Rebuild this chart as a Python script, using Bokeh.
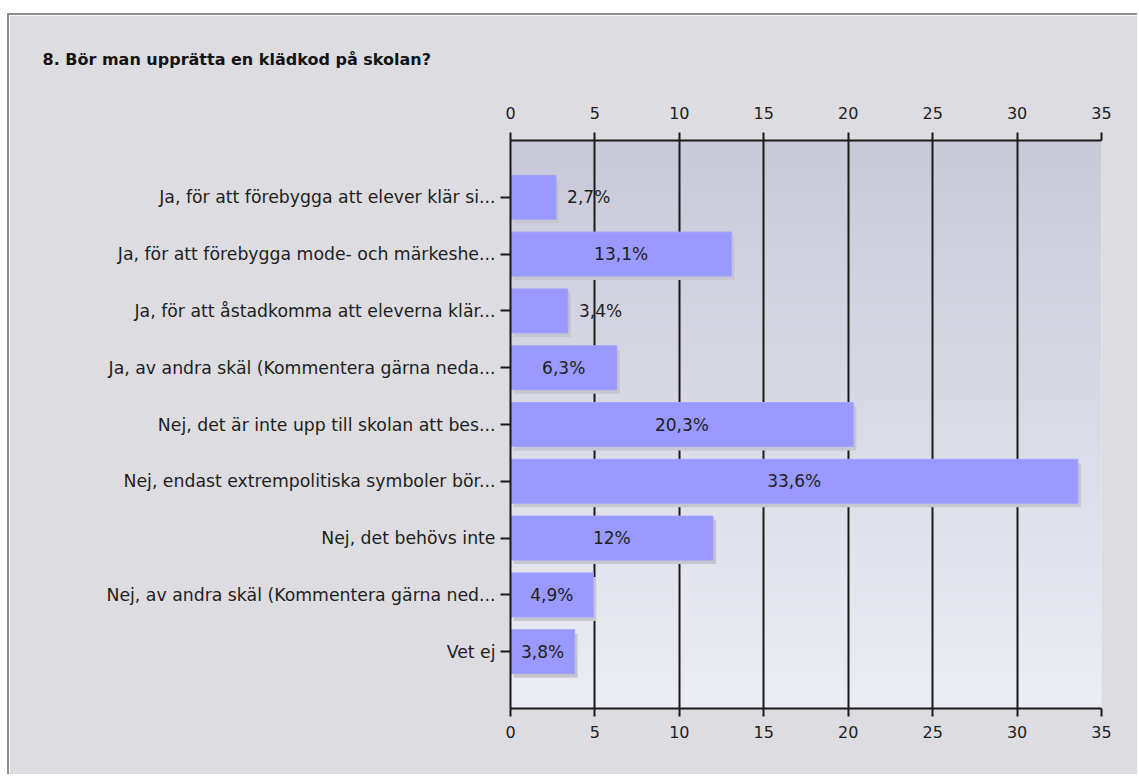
import numpy as np
from bokeh.plotting import figure
from bokeh.models import (Range1d, FixedTicker, LinearAxis, ColumnDataSource)
from bokeh.core.properties import value
from bokeh.embed import file_html
from bokeh.resources import INLINE

# ---- data ----
title_text = "8. Bör man upprätta en klädkod på skolan?"
categories = [
    "Ja, för att förebygga att elever klär si...",
    "Ja, för att förebygga mode- och märkeshe...",
    "Ja, för att åstadkomma att eleverna klär...",
    "Ja, av andra skäl (Kommentera gärna neda...",
    "Nej, det är inte upp till skolan att bes...",
    "Nej, endast extrempolitiska symboler bör...",
    "Nej, det behövs inte",
    "Nej, av andra skäl (Kommentera gärna ned...",
    "Vet ej",
]
percentages = [2.7, 13.1, 3.4, 6.3, 20.3, 33.6, 12.0, 4.9, 3.8]
x_ticks = [0, 5, 10, 15, 20, 25, 30, 35]

FONT = "DejaVu Sans"
TXT = "#1e1e1e"
n = len(categories)
ypos = [n - i for i in range(n)]  # top category highest
labels = [("%g" % v).replace(".", ",") + "%" for v in percentages]

# px per unit (frame 591 px wide for 35 units, 568 px tall for 10 units)
px_x = 591 / 35.0
px_y = 568 / 10.0

W, H = 1130, 761
FL, FR, FT, FB = 501, 1092, 125, 693

p = figure(width=W, height=H, output_backend="svg", toolbar_location=None,
           x_range=Range1d(0, 35), y_range=Range1d(0, n + 1),
           min_border_left=FL, min_border_right=W - FR, min_border_top=FT,
           min_border_bottom=H - FB, x_axis_location="below")
p.margin = (13, 0, 0, 7)
p.styles = {"border-top": "2px solid #8e8e8e", "border-left": "2px solid #8e8e8e"}
p.border_fill_color = "#dddce1"
p.background_fill_color = "#dcdce6"
p.outline_line_color = None

# title
p.title.text = title_text
p.title.align = "left"
p.title.vertical_align = "top"
p.title.offset = 33 - FL
p.title.standoff = 65
p.title.text_font = FONT
p.title.text_font_size = "16px"
p.title.text_font_style = "bold"
p.title.text_color = "#141414"

# gradient background of plot area
rows = 256
t = np.linspace(0, 1, rows)  # 0 bottom -> 1 top
top_c = np.array([201, 201, 217])
bot_c = np.array([237, 237, 245])
img = np.zeros((rows, 1), dtype=np.uint32)
view = img.view(dtype=np.uint8).reshape((rows, 1, 4))
for k in range(rows):
    c = bot_c + (top_c - bot_c) * t[k]
    view[k, 0, 0] = int(c[0]); view[k, 0, 1] = int(c[1]); view[k, 0, 2] = int(c[2]); view[k, 0, 3] = 255
bg = p.image_rgba(image=[img], x=0, y=0, dw=35, dh=n + 1)
bg.level = "image"

# grid
p.xgrid.ticker = FixedTicker(ticks=x_ticks)
p.xgrid.grid_line_color = "#1a1a1a"
p.xgrid.grid_line_width = 2
p.ygrid.grid_line_color = None

# axes
def style_x(ax):
    ax.ticker = FixedTicker(ticks=x_ticks)
    ax.axis_line_color = "#1a1a1a"
    ax.axis_line_width = 2
    ax.major_tick_line_color = "#1a1a1a"
    ax.major_tick_line_width = 2
    ax.major_tick_out = 8
    ax.major_tick_in = 0
    ax.minor_tick_line_color = None
    ax.major_label_text_font = FONT
    ax.major_label_text_font_size = "16px"
    ax.major_label_text_color = TXT
    ax.major_label_standoff = 9

style_x(p.xaxis[0])
top_ax = LinearAxis()
style_x(top_ax)
top_ax.major_label_standoff = 14
p.add_layout(top_ax, "above")

ya = p.yaxis[0]
ya.ticker = FixedTicker(ticks=ypos)
ya.major_label_overrides = {y: c for y, c in zip(ypos, categories)}
ya.axis_line_color = "#1a1a1a"
ya.axis_line_width = 2
ya.major_tick_line_color = "#1a1a1a"
ya.major_tick_line_width = 2
ya.major_tick_out = 10
ya.major_tick_in = 0
ya.minor_tick_line_color = None
ya.major_label_text_font = FONT
ya.major_label_text_font_size = "17.3px"
ya.major_label_text_color = TXT
ya.major_label_standoff = 5

# bars with shadow
bar_h = 0.775
src = ColumnDataSource(dict(y=ypos, v=percentages,
                            ys=[y - 4 / px_y for y in ypos],
                            ls=[3 / px_x] * n,
                            rs=[v + 3 / px_x for v in percentages]))
p.hbar(y="ys", left="ls", right="rs", height=bar_h, source=src,
       fill_color="#c6c6ce", line_color=None)
p.hbar(y="y", left=0, right="v", height=bar_h, source=src,
       fill_color="#9999ff", line_color="#a4a4fa", line_width=1)

# value labels
inside = [i for i, v in enumerate(percentages) if v >= 3.6]
outside = [i for i, v in enumerate(percentages) if v < 3.6]
p.text(x=[percentages[i] / 2 for i in inside], y=[ypos[i] for i in inside],
       text=[labels[i] for i in inside], text_align="center", text_baseline="middle",
       text_font=value(FONT), text_font_size="17px", text_color=TXT)
p.text(x=[percentages[i] for i in outside], y=[ypos[i] for i in outside],
       text=[labels[i] for i in outside], x_offset=11, text_align="left",
       text_baseline="middle",
       text_font=value(FONT), text_font_size="17px", text_color=TXT)

open("out.html", "w").write(file_html(p, INLINE))
